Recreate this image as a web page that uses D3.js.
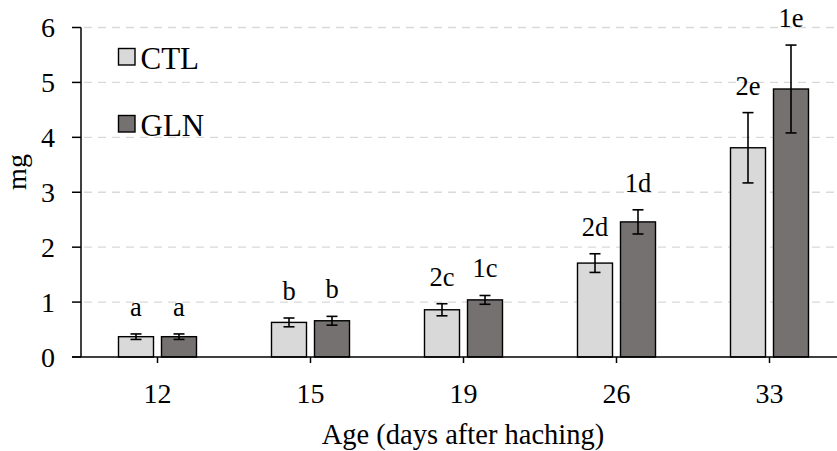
<!DOCTYPE html>
<html>
<head>
<meta charset="utf-8">
<script src="https://cdn.jsdelivr.net/npm/d3@7"></script>
<style>
  body { margin: 0; background: #fff; }
  text { font-family: "Liberation Serif", "Times New Roman", Times, serif; }
</style>
</head>
<body>
<svg id="chart" width="837" height="451"></svg>
<script>
// ── Data ──────────────────────────────────────────────────────────────────
const ages = ["12", "15", "19", "26", "33"];
const seriesNames = ["CTL", "GLN"];
const ctlMean = [0.37, 0.63, 0.86, 1.71, 3.81];
const ctlErr = [0.05, 0.08, 0.11, 0.17, 0.64];
const glnMean = [0.37, 0.66, 1.04, 2.46, 4.88];
const glnErr = [0.05, 0.08, 0.08, 0.22, 0.80];
const ctlLabels = ["a", "b", "2c", "2d", "2e"];
const glnLabels = ["a", "b", "1c", "1d", "1e"];
const yTicks = [0, 1, 2, 3, 4, 5, 6];

const colors = { CTL: "#d9d9d9", GLN: "#767171" };
const SERIF = "'Liberation Serif', 'Times New Roman', Times, serif";

const svg = d3.select("#chart");

const x = d3.scaleBand().domain(ages).range([81, 846]).paddingInner(0).paddingOuter(0);
const y = d3.scaleLinear().domain([0, 6]).range([357, 27.5]);

const barW = 35;
const offsets = { CTL: -21.5, GLN: 21.5 };
const center = a => x(a) + x.bandwidth() / 2;

// Gridlines
svg.append("g")
  .selectAll("line")
  .data(yTicks.filter(d => d > 0))
  .enter().append("line")
  .attr("x1", 84).attr("x2", 837)
  .attr("y1", d => y(d)).attr("y2", d => y(d))
  .attr("stroke", "#d9d9d9")
  .attr("stroke-width", 1.3)
  .attr("stroke-dasharray", "8,6");

// Bars
const rows = [];
ages.forEach((a, i) => {
  rows.push({ age: a, s: "CTL", v: ctlMean[i], e: ctlErr[i], lab: ctlLabels[i] });
  rows.push({ age: a, s: "GLN", v: glnMean[i], e: glnErr[i], lab: glnLabels[i] });
});
const cx = d => center(d.age) + offsets[d.s];

svg.append("g")
  .selectAll("rect")
  .data(rows)
  .enter().append("rect")
  .attr("x", d => cx(d) - barW / 2)
  .attr("width", barW)
  .attr("y", d => y(d.v))
  .attr("height", d => y(0) - y(d.v))
  .attr("fill", d => colors[d.s])
  .attr("stroke", "#000")
  .attr("stroke-width", 1.4);

// Error bars
const eg = svg.append("g").attr("stroke", "#000").attr("stroke-width", 1.6);
rows.forEach(d => {
  const c = cx(d);
  eg.append("line").attr("x1", c).attr("x2", c).attr("y1", y(d.v + d.e)).attr("y2", y(d.v - d.e));
  eg.append("line").attr("x1", c - 5.5).attr("x2", c + 5.5).attr("y1", y(d.v + d.e)).attr("y2", y(d.v + d.e));
  eg.append("line").attr("x1", c - 5.5).attr("x2", c + 5.5).attr("y1", y(d.v - d.e)).attr("y2", y(d.v - d.e));
});

// Letter labels
svg.append("g")
  .selectAll("text")
  .data(rows)
  .enter().append("text")
  .attr("x", d => cx(d))
  .attr("y", d => y(d.v + d.e) - 18)
  .attr("text-anchor", "middle")
  .attr("font-family", SERIF)
  .attr("font-size", 26.5)
  .attr("fill", "#000")
  .text(d => d.lab);

// Y axis
const yAxis = svg.append("g");
yAxis.append("line")
  .attr("x1", 81).attr("x2", 81).attr("y1", y(6)).attr("y2", y(0))
  .attr("stroke", "#000").attr("stroke-width", 1.5);
yAxis.selectAll("line.tick")
  .data(yTicks)
  .enter().append("line")
  .attr("class", "tick")
  .attr("x1", 72).attr("x2", 81)
  .attr("y1", d => y(d)).attr("y2", d => y(d))
  .attr("stroke", "#000").attr("stroke-width", 1.5);
yAxis.selectAll("text")
  .data(yTicks)
  .enter().append("text")
  .attr("x", 55)
  .attr("y", d => y(d) + 9.5)
  .attr("text-anchor", "end")
  .attr("font-family", SERIF)
  .attr("font-size", 28)
  .text(d => d);

// X axis
const xAxis = svg.append("g");
xAxis.append("line")
  .attr("x1", 72).attr("x2", 837).attr("y1", y(0)).attr("y2", y(0))
  .attr("stroke", "#000").attr("stroke-width", 1.5);
xAxis.selectAll("line.tick")
  .data(ages)
  .enter().append("line")
  .attr("class", "tick")
  .attr("x1", d => center(d)).attr("x2", d => center(d))
  .attr("y1", y(0)).attr("y2", y(0) + 6)
  .attr("stroke", "#000").attr("stroke-width", 1.5);
xAxis.selectAll("text")
  .data(ages)
  .enter().append("text")
  .attr("x", d => center(d))
  .attr("y", 402.5)
  .attr("text-anchor", "middle")
  .attr("font-family", SERIF)
  .attr("font-size", 28)
  .text(d => d);

// Axis titles
svg.append("text")
  .attr("x", 463).attr("y", 443.5)
  .attr("text-anchor", "middle")
  .attr("font-family", SERIF)
  .attr("font-size", 28.5)
  .text("Age (days after haching)");
svg.append("text")
  .attr("transform", "translate(26,172) rotate(-90)")
  .attr("text-anchor", "middle")
  .attr("font-family", SERIF)
  .attr("font-size", 28)
  .text("mg");

// Legend
const legend = svg.append("g");
seriesNames.forEach((s, i) => {
  const ly = 48.5 + i * 67;
  legend.append("rect")
    .attr("x", 118.5).attr("y", ly).attr("width", 16.5).attr("height", 16.5)
    .attr("fill", colors[s]).attr("stroke", "#000").attr("stroke-width", 1.4);
  legend.append("text")
    .attr("x", 140.5).attr("y", ly + 20)
    .attr("font-family", SERIF)
    .attr("font-size", 31)
    .text(s);
});
</script>
</body>
</html>
